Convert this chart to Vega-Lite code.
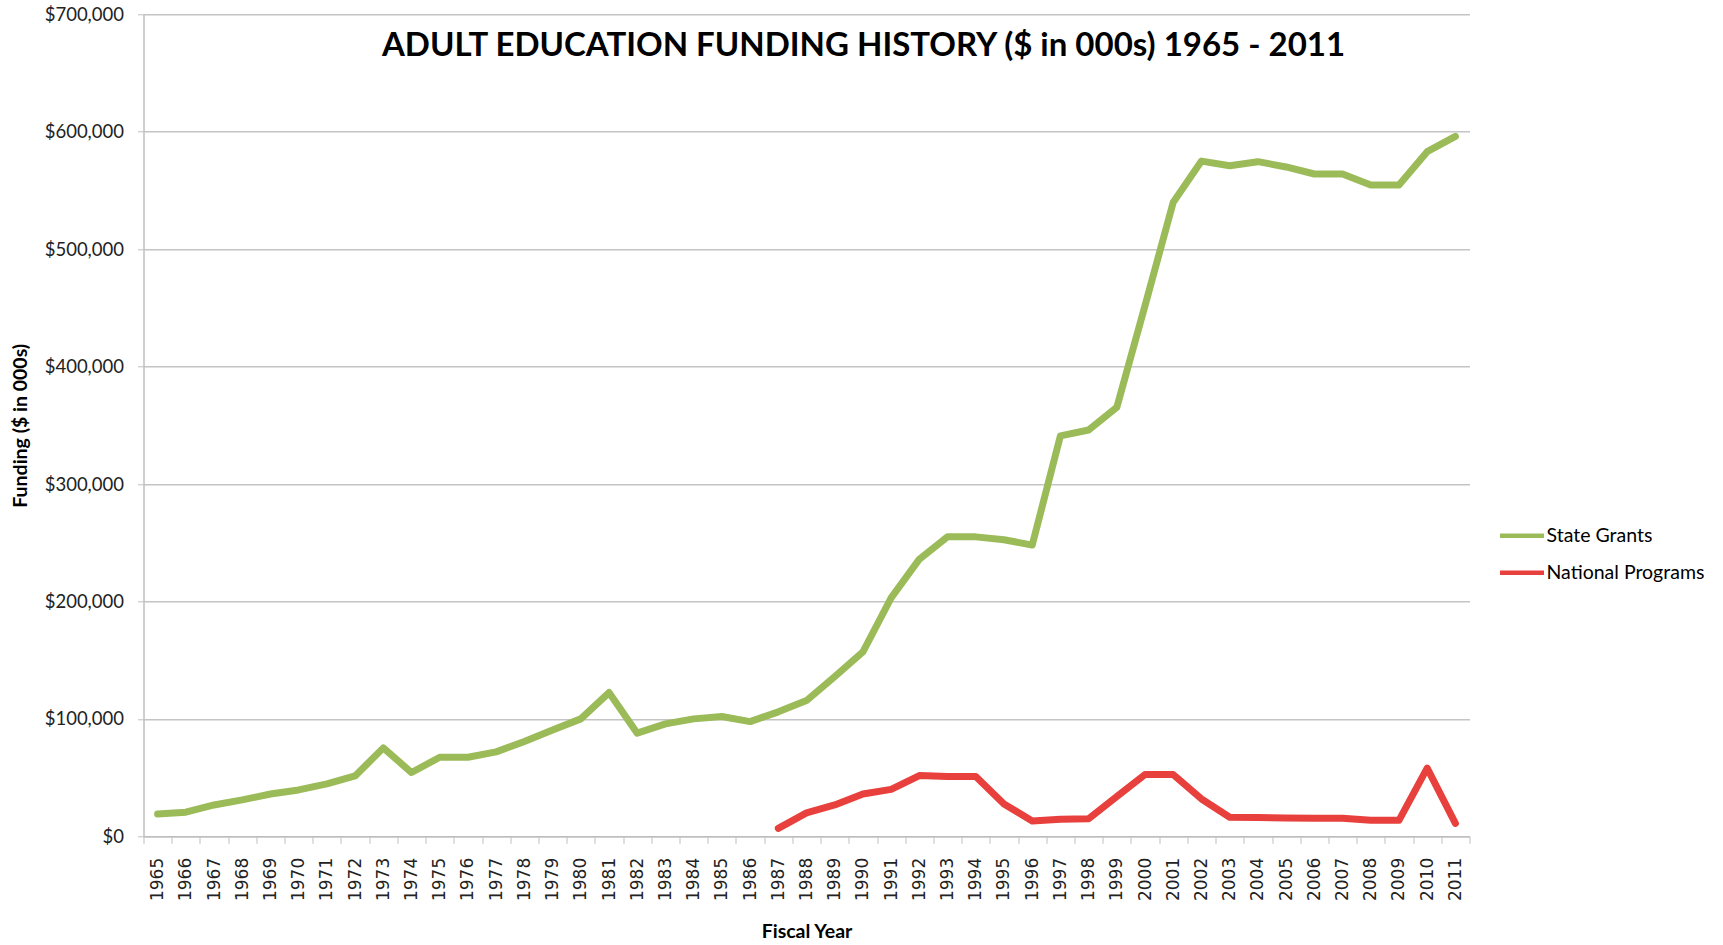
{
  "$schema": "https://vega.github.io/schema/vega-lite/v6.json",
  "autosize": {"type": "none"},
  "width": 1326,
  "height": 822,
  "padding": {"left": 143.5, "top": 14.3, "right": 253.5, "bottom": 108.7},
  "background": "white",
  "title": {
    "text": "ADULT EDUCATION FUNDING HISTORY ($ in 000s) 1965 - 2011",
    "font": "Lato",
    "fontSize": 33,
    "fontWeight": "bold",
    "color": "#000000",
    "anchor": "middle",
    "frame": "group",
    "baseline": "alphabetic",
    "offset": 0,
    "dx": 57,
    "dy": 84
  },
  "config": {
    "view": {"stroke": null},
    "axis": {"labelFont": "Lato", "titleFont": "Lato"}
  },
  "data": {
    "values": [
      {"year": "1965", "series": "State Grants", "value": 19000},
      {"year": "1966", "series": "State Grants", "value": 20500},
      {"year": "1967", "series": "State Grants", "value": 26700},
      {"year": "1968", "series": "State Grants", "value": 31000},
      {"year": "1969", "series": "State Grants", "value": 36000},
      {"year": "1970", "series": "State Grants", "value": 39500},
      {"year": "1971", "series": "State Grants", "value": 44600},
      {"year": "1972", "series": "State Grants", "value": 51400},
      {"year": "1973", "series": "State Grants", "value": 75300},
      {"year": "1974", "series": "State Grants", "value": 54300},
      {"year": "1975", "series": "State Grants", "value": 67300},
      {"year": "1976", "series": "State Grants", "value": 67300},
      {"year": "1977", "series": "State Grants", "value": 71900},
      {"year": "1978", "series": "State Grants", "value": 80700},
      {"year": "1979", "series": "State Grants", "value": 90600},
      {"year": "1980", "series": "State Grants", "value": 100000},
      {"year": "1981", "series": "State Grants", "value": 122400},
      {"year": "1982", "series": "State Grants", "value": 87800},
      {"year": "1983", "series": "State Grants", "value": 95700},
      {"year": "1984", "series": "State Grants", "value": 100000},
      {"year": "1985", "series": "State Grants", "value": 102000},
      {"year": "1986", "series": "State Grants", "value": 97700},
      {"year": "1987", "series": "State Grants", "value": 106000},
      {"year": "1988", "series": "State Grants", "value": 115600},
      {"year": "1989", "series": "State Grants", "value": 136000},
      {"year": "1990", "series": "State Grants", "value": 157000},
      {"year": "1991", "series": "State Grants", "value": 203000},
      {"year": "1992", "series": "State Grants", "value": 236000},
      {"year": "1993", "series": "State Grants", "value": 255000},
      {"year": "1994", "series": "State Grants", "value": 255000},
      {"year": "1995", "series": "State Grants", "value": 252500},
      {"year": "1996", "series": "State Grants", "value": 248000},
      {"year": "1997", "series": "State Grants", "value": 341000},
      {"year": "1998", "series": "State Grants", "value": 346000},
      {"year": "1999", "series": "State Grants", "value": 365400},
      {"year": "2000", "series": "State Grants", "value": 452000},
      {"year": "2001", "series": "State Grants", "value": 540000},
      {"year": "2002", "series": "State Grants", "value": 575000},
      {"year": "2003", "series": "State Grants", "value": 571000},
      {"year": "2004", "series": "State Grants", "value": 574500},
      {"year": "2005", "series": "State Grants", "value": 570000},
      {"year": "2006", "series": "State Grants", "value": 564000},
      {"year": "2007", "series": "State Grants", "value": 564000},
      {"year": "2008", "series": "State Grants", "value": 554600},
      {"year": "2009", "series": "State Grants", "value": 554600},
      {"year": "2010", "series": "State Grants", "value": 583000},
      {"year": "2011", "series": "State Grants", "value": 596000},
      {"year": "1987", "series": "National Programs", "value": 6800},
      {"year": "1988", "series": "National Programs", "value": 20000},
      {"year": "1989", "series": "National Programs", "value": 26700},
      {"year": "1990", "series": "National Programs", "value": 36000},
      {"year": "1991", "series": "National Programs", "value": 40000},
      {"year": "1992", "series": "National Programs", "value": 51700},
      {"year": "1993", "series": "National Programs", "value": 50900},
      {"year": "1994", "series": "National Programs", "value": 50900},
      {"year": "1995", "series": "National Programs", "value": 27600},
      {"year": "1996", "series": "National Programs", "value": 13000},
      {"year": "1997", "series": "National Programs", "value": 14500},
      {"year": "1998", "series": "National Programs", "value": 15000},
      {"year": "1999", "series": "National Programs", "value": 33800},
      {"year": "2000", "series": "National Programs", "value": 52600},
      {"year": "2001", "series": "National Programs", "value": 52600},
      {"year": "2002", "series": "National Programs", "value": 31800},
      {"year": "2003", "series": "National Programs", "value": 16200},
      {"year": "2004", "series": "National Programs", "value": 16000},
      {"year": "2005", "series": "National Programs", "value": 15600},
      {"year": "2006", "series": "National Programs", "value": 15300},
      {"year": "2007", "series": "National Programs", "value": 15300},
      {"year": "2008", "series": "National Programs", "value": 13600},
      {"year": "2009", "series": "National Programs", "value": 13600},
      {"year": "2010", "series": "National Programs", "value": 58000},
      {"year": "2011", "series": "National Programs", "value": 11000}
    ]
  },
  "mark": {"type": "line", "strokeWidth": 7, "strokeJoin": "round", "strokeCap": "round"},
  "encoding": {
    "x": {
      "field": "year",
      "type": "ordinal",
      "bandPosition": 0.5,
      "scale": {"type": "band", "paddingInner": 0, "paddingOuter": 0},
      "axis": {
        "title": "Fiscal Year",
        "titleFont": "Lato",
        "titleFontSize": 19.5,
        "titleFontWeight": "bold",
        "titleColor": "#000000",
        "titleX": 663,
        "titleY": 95,
        "titleBaseline": "middle",
        "titleAlign": "center",
        "labelFont": "DejaVu Sans",
        "labelFontSize": 17,
        "labelColor": "#222222",
        "labelAngle": -90,
        "labelPadding": 14,
        "tickBand": "extent",
        "tickSize": 7,
        "tickColor": "#bfbfbf",
        "domainColor": "#bfbfbf",
        "domainWidth": 1.5,
        "grid": false
      }
    },
    "y": {
      "field": "value",
      "type": "quantitative",
      "scale": {"domain": [0, 700000], "nice": false},
      "axis": {
        "title": "Funding ($ in 000s)",
        "titleFont": "Lato",
        "titleFontSize": 19.5,
        "titleFontWeight": "bold",
        "titleColor": "#000000",
        "titleX": -123,
        "titleY": 411,
        "titleAngle": -90,
        "titleBaseline": "middle",
        "titleAlign": "center",
        "values": [0, 100000, 200000, 300000, 400000, 500000, 600000, 700000],
        "format": "$,.0f",
        "labelFont": "Lato",
        "labelFontSize": 18.5,
        "labelColor": "#222222",
        "labelPadding": 14,
        "tickSize": 6,
        "tickColor": "#bfbfbf",
        "domainColor": "#bfbfbf",
        "domainWidth": 1.5,
        "grid": true,
        "gridColor": "#c4c4c4",
        "gridWidth": 1.5
      }
    },
    "color": {
      "field": "series",
      "type": "nominal",
      "scale": {"domain": ["State Grants", "National Programs"], "range": ["#9BBB59", "#E8403C"]},
      "legend": {
        "title": null,
        "orient": "none",
        "legendX": 1354,
        "legendY": 497,
        "symbolType": "stroke",
        "symbolSize": 1936,
        "symbolStrokeWidth": 4.5,
        "labelFont": "Lato",
        "labelFontSize": 19.5,
        "labelColor": "#000000",
        "labelOffset": 0,
        "rowPadding": 3
      }
    }
  }
}
